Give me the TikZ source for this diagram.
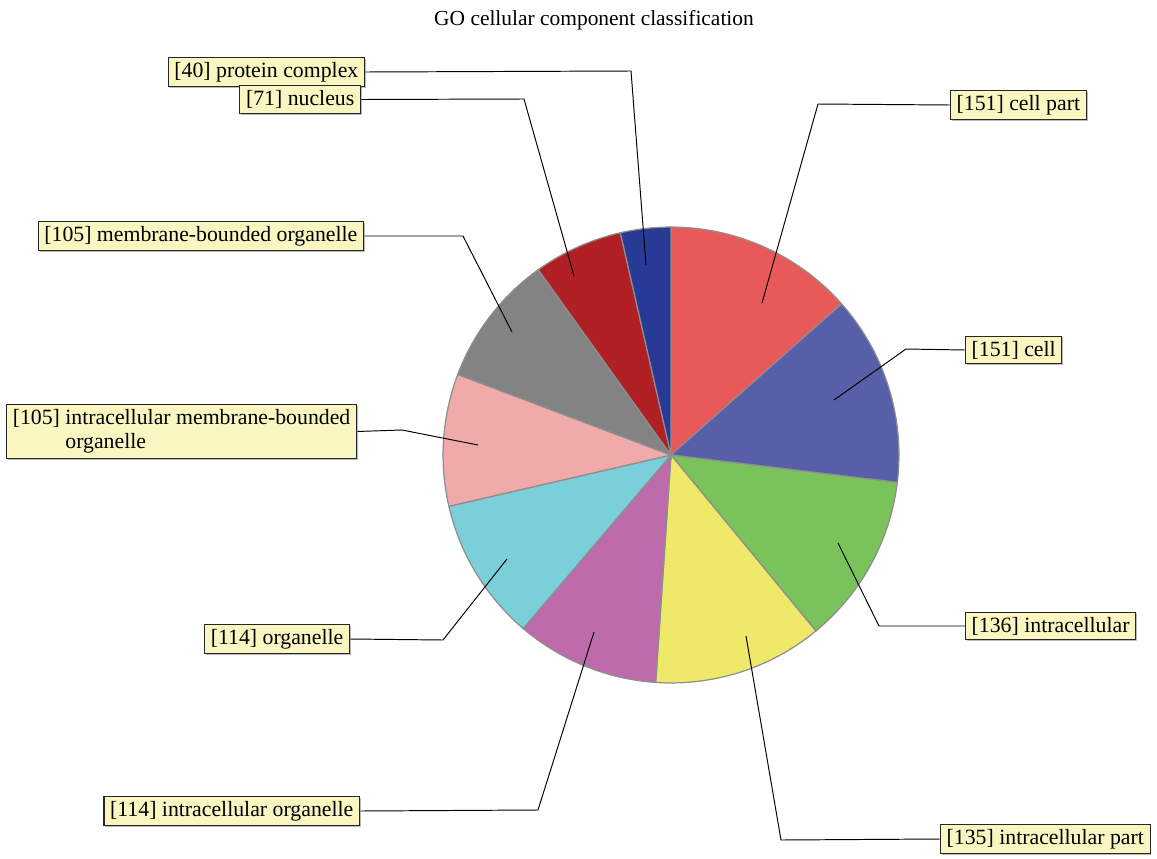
\documentclass[tikz,border=0pt]{standalone}
\usepackage{fontspec}
\setmainfont{Liberation Serif}
\usetikzlibrary{shadows}
\definecolor{labelfill}{HTML}{F9F6C2}
\definecolor{slicegray}{HTML}{8E8E8E}
\begin{document}
\begin{tikzpicture}
[x=0.02cm, y=-0.02cm,
  slicedecorate/.style={draw=slicegray,line width=0.7pt},
  labeldecorate/.style={shape=rectangle,draw=black!85,fill=labelfill,
    line width=0.6pt,inner xsep=3.5pt,inner ysep=2.8pt,font=\fontsize{12.4}{13.4}\selectfont,
    drop shadow={shadow xshift=0.8pt,shadow yshift=-0.8pt,fill=black!45,opacity=0.6}},
  linedecorate/.style={-,black,line width=0.55pt}]
\useasboundingbox (0,0) rectangle (1157,859);
%% title
\node (title) at (594,20) {\fontsize{12.2}{14}\selectfont GO cellular component classification};
%% pie slices
\begin{scope}[shift={(671,455)}, x=1cm, y=1cm]
\foreach \s/\e/\col in {90/41.551/E85A5A, 41.551/-6.898/575FA8,
  -6.898/-50.534/7AC25A, -50.534/-93.850/EEE968, -93.850/-130.428/BD6BAB,
  -130.428/-167.005/7ACFD8, -167.005/-200.695/F0AAAA,
  -200.695/-234.385/838383, -234.385/-257.166/B01F24, -257.166/-270/273A96}
{
  \definecolor{slicefill}{HTML}{\col}
  \draw[slicedecorate, fill=slicefill] (0,0) -- (\s:4.56)
    arc[start angle=\s, end angle=\e, radius=4.56] -- cycle;
}
\end{scope}
%% sides of the label boxes
\foreach \nodename/\x/\y in {pcomplex/365/72, nucleus/361/99.5, mborg/364/236,
  imborg/357/431.5, organelle/350/639, iorg/360/811, ipart/940/839,
  intra/965/626, cell/965/350, cellpart/950/105}
{
  \coordinate (\nodename-side) at (\x,\y);
}
%% connectors
\foreach \nodename/\bx/\by/\px/\py in {pcomplex/631/71/646/265,
  nucleus/524/99/574/276, mborg/463/236/512/332, imborg/402/430/478/445,
  organelle/443/640/507/559, iorg/538/810/594/632, ipart/781/840/746/636,
  intra/879/626/838/543, cell/906/349/834/400, cellpart/818/104/762/303}
{
  \coordinate (\nodename-bend) at (\bx,\by);
  \coordinate (\nodename-in) at (\px,\py);
  \draw[linedecorate] (\nodename-side) -- (\nodename-bend) -- (\nodename-in);
}
%% label boxes
\foreach \nodename/\text in {pcomplex/{[40] protein complex},
  nucleus/{[71] nucleus}, mborg/{[105] membrane-bounded organelle},
  organelle/{[114] organelle}, iorg/{[114] intracellular organelle}}
{
  \node (\nodename) [labeldecorate, anchor=east] at (\nodename-side) {\text};
}
\node (imborg) [labeldecorate, anchor=east, align=left] at (imborg-side)
  {[105] intracellular membrane-bounded\\\phantom{[105] }organelle};
\foreach \nodename/\text in {ipart/{[135] intracellular part},
  intra/{[136] intracellular}, cell/{[151] cell}, cellpart/{[151] cell part}}
{
  \node (\nodename) [labeldecorate, anchor=west] at (\nodename-side) {\text};
}
\end{tikzpicture}
\end{document}
